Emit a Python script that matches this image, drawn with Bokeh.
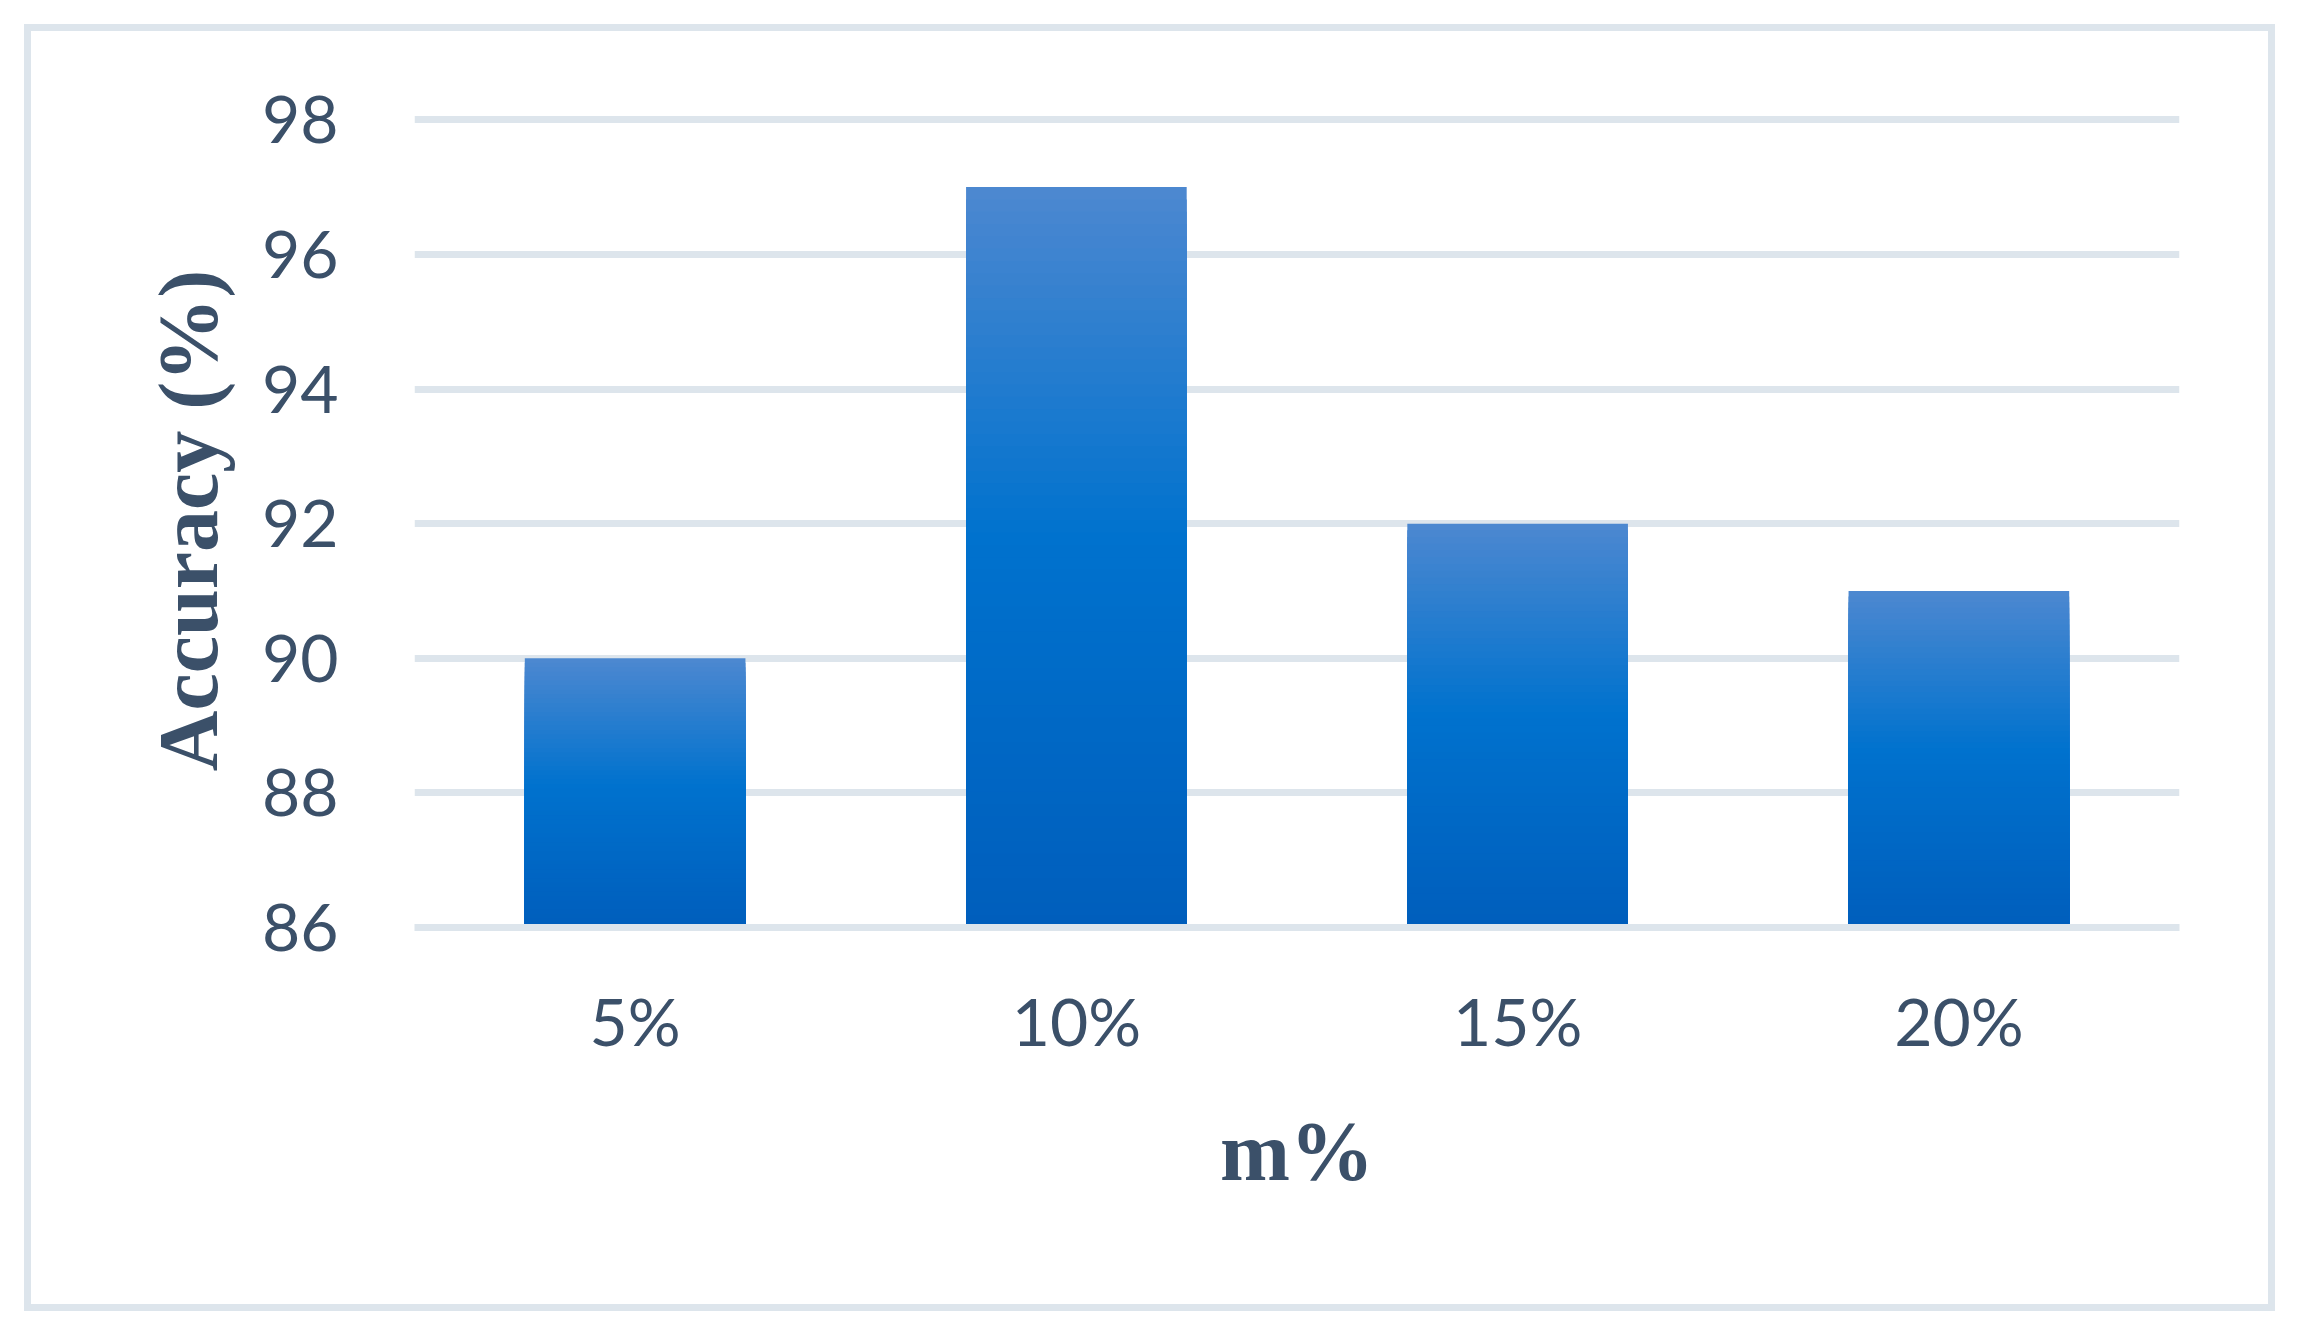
from bokeh.plotting import figure
from bokeh.models import Range1d, FactorRange, FixedTicker
from bokeh.embed import file_html
from bokeh.resources import INLINE

# ---- data ----
categories = ["5%", "10%", "15%", "20%"]
accuracy = [90, 97, 92, 91]
y_ticks = [86, 88, 90, 92, 94, 96, 98]
x_title = "m%"
y_title = "Accuracy (%)"

# ---- styling ----
TEXT = "#3B5069"
GRID = "#DDE5EC"
BASE = 86
TOP = 98.093
# gradient stops (fraction from bar top, rgb)
stops = [(0.0, (77, 136, 208)), (0.47, (0, 114, 206)), (1.0, (0, 94, 188))]


def grad(f):
    for (f0, c0), (f1, c1) in zip(stops[:-1], stops[1:]):
        if f <= f1:
            t = (f - f0) / (f1 - f0) if f1 > f0 else 0
            return "#%02x%02x%02x" % tuple(round(a + (b - a) * t) for a, b in zip(c0, c1))
    return "#%02x%02x%02x" % stops[-1][1]


p = figure(
    x_range=FactorRange(*categories),
    y_range=Range1d(BASE, TOP),
    width=2283, height=1319,
    min_border_left=406, min_border_right=112,
    min_border_top=105, min_border_bottom=400,
    output_backend="svg", toolbar_location=None,
)
p.margin = (8, 8, 8, 8)
p.border_fill_color = None
p.background_fill_color = "white"
p.outline_line_color = None
p.styles = {"outline": "7px solid #DDE5EC", "outline-offset": "-23px"}

# gradient bars: painter-style strips, tallest (lightest) first
N = 60
for k in range(N):
    frac = k / N
    tops = [BASE + (v - BASE) * (1 - frac) for v in accuracy]
    p.vbar(x=categories, top=tops, bottom=BASE, width=0.5,
           fill_color=grad(frac + 0.5 / N), line_color=None)

# grid
p.xgrid.grid_line_color = None
p.ygrid.grid_line_color = GRID
p.ygrid.grid_line_width = 7
p.ygrid.ticker = FixedTicker(ticks=y_ticks)

# y axis
p.yaxis.ticker = FixedTicker(ticks=y_ticks)
p.yaxis.axis_line_color = None
p.yaxis.major_tick_line_color = None
p.yaxis.minor_tick_line_color = None
p.yaxis.major_label_text_font = "Lato"
p.yaxis.major_label_text_font_size = "66px"
p.yaxis.major_label_text_color = TEXT
p.yaxis.major_label_standoff = 70
p.yaxis.axis_label = y_title
p.yaxis.axis_label_text_font = "Liberation Serif"
p.yaxis.axis_label_text_font_style = "bold"
p.yaxis.axis_label_text_font_size = "84px"
p.yaxis.axis_label_text_color = TEXT
p.yaxis.axis_label_standoff = 24

# x axis
p.xaxis.axis_line_color = GRID
p.xaxis.axis_line_width = 7
p.xaxis.major_tick_line_color = None
p.xaxis.minor_tick_line_color = None
p.xaxis.major_label_text_font = "Lato"
p.xaxis.major_label_text_font_size = "66px"
p.xaxis.major_label_text_color = TEXT
p.xaxis.major_label_standoff = 47
p.xaxis.axis_label = x_title
p.xaxis.axis_label_text_font = "Liberation Serif"
p.xaxis.axis_label_text_font_style = "bold"
p.xaxis.axis_label_text_font_size = "84px"
p.xaxis.axis_label_text_color = TEXT
p.xaxis.axis_label_standoff = 42

open("out.html", "w").write(file_html(p, INLINE))
